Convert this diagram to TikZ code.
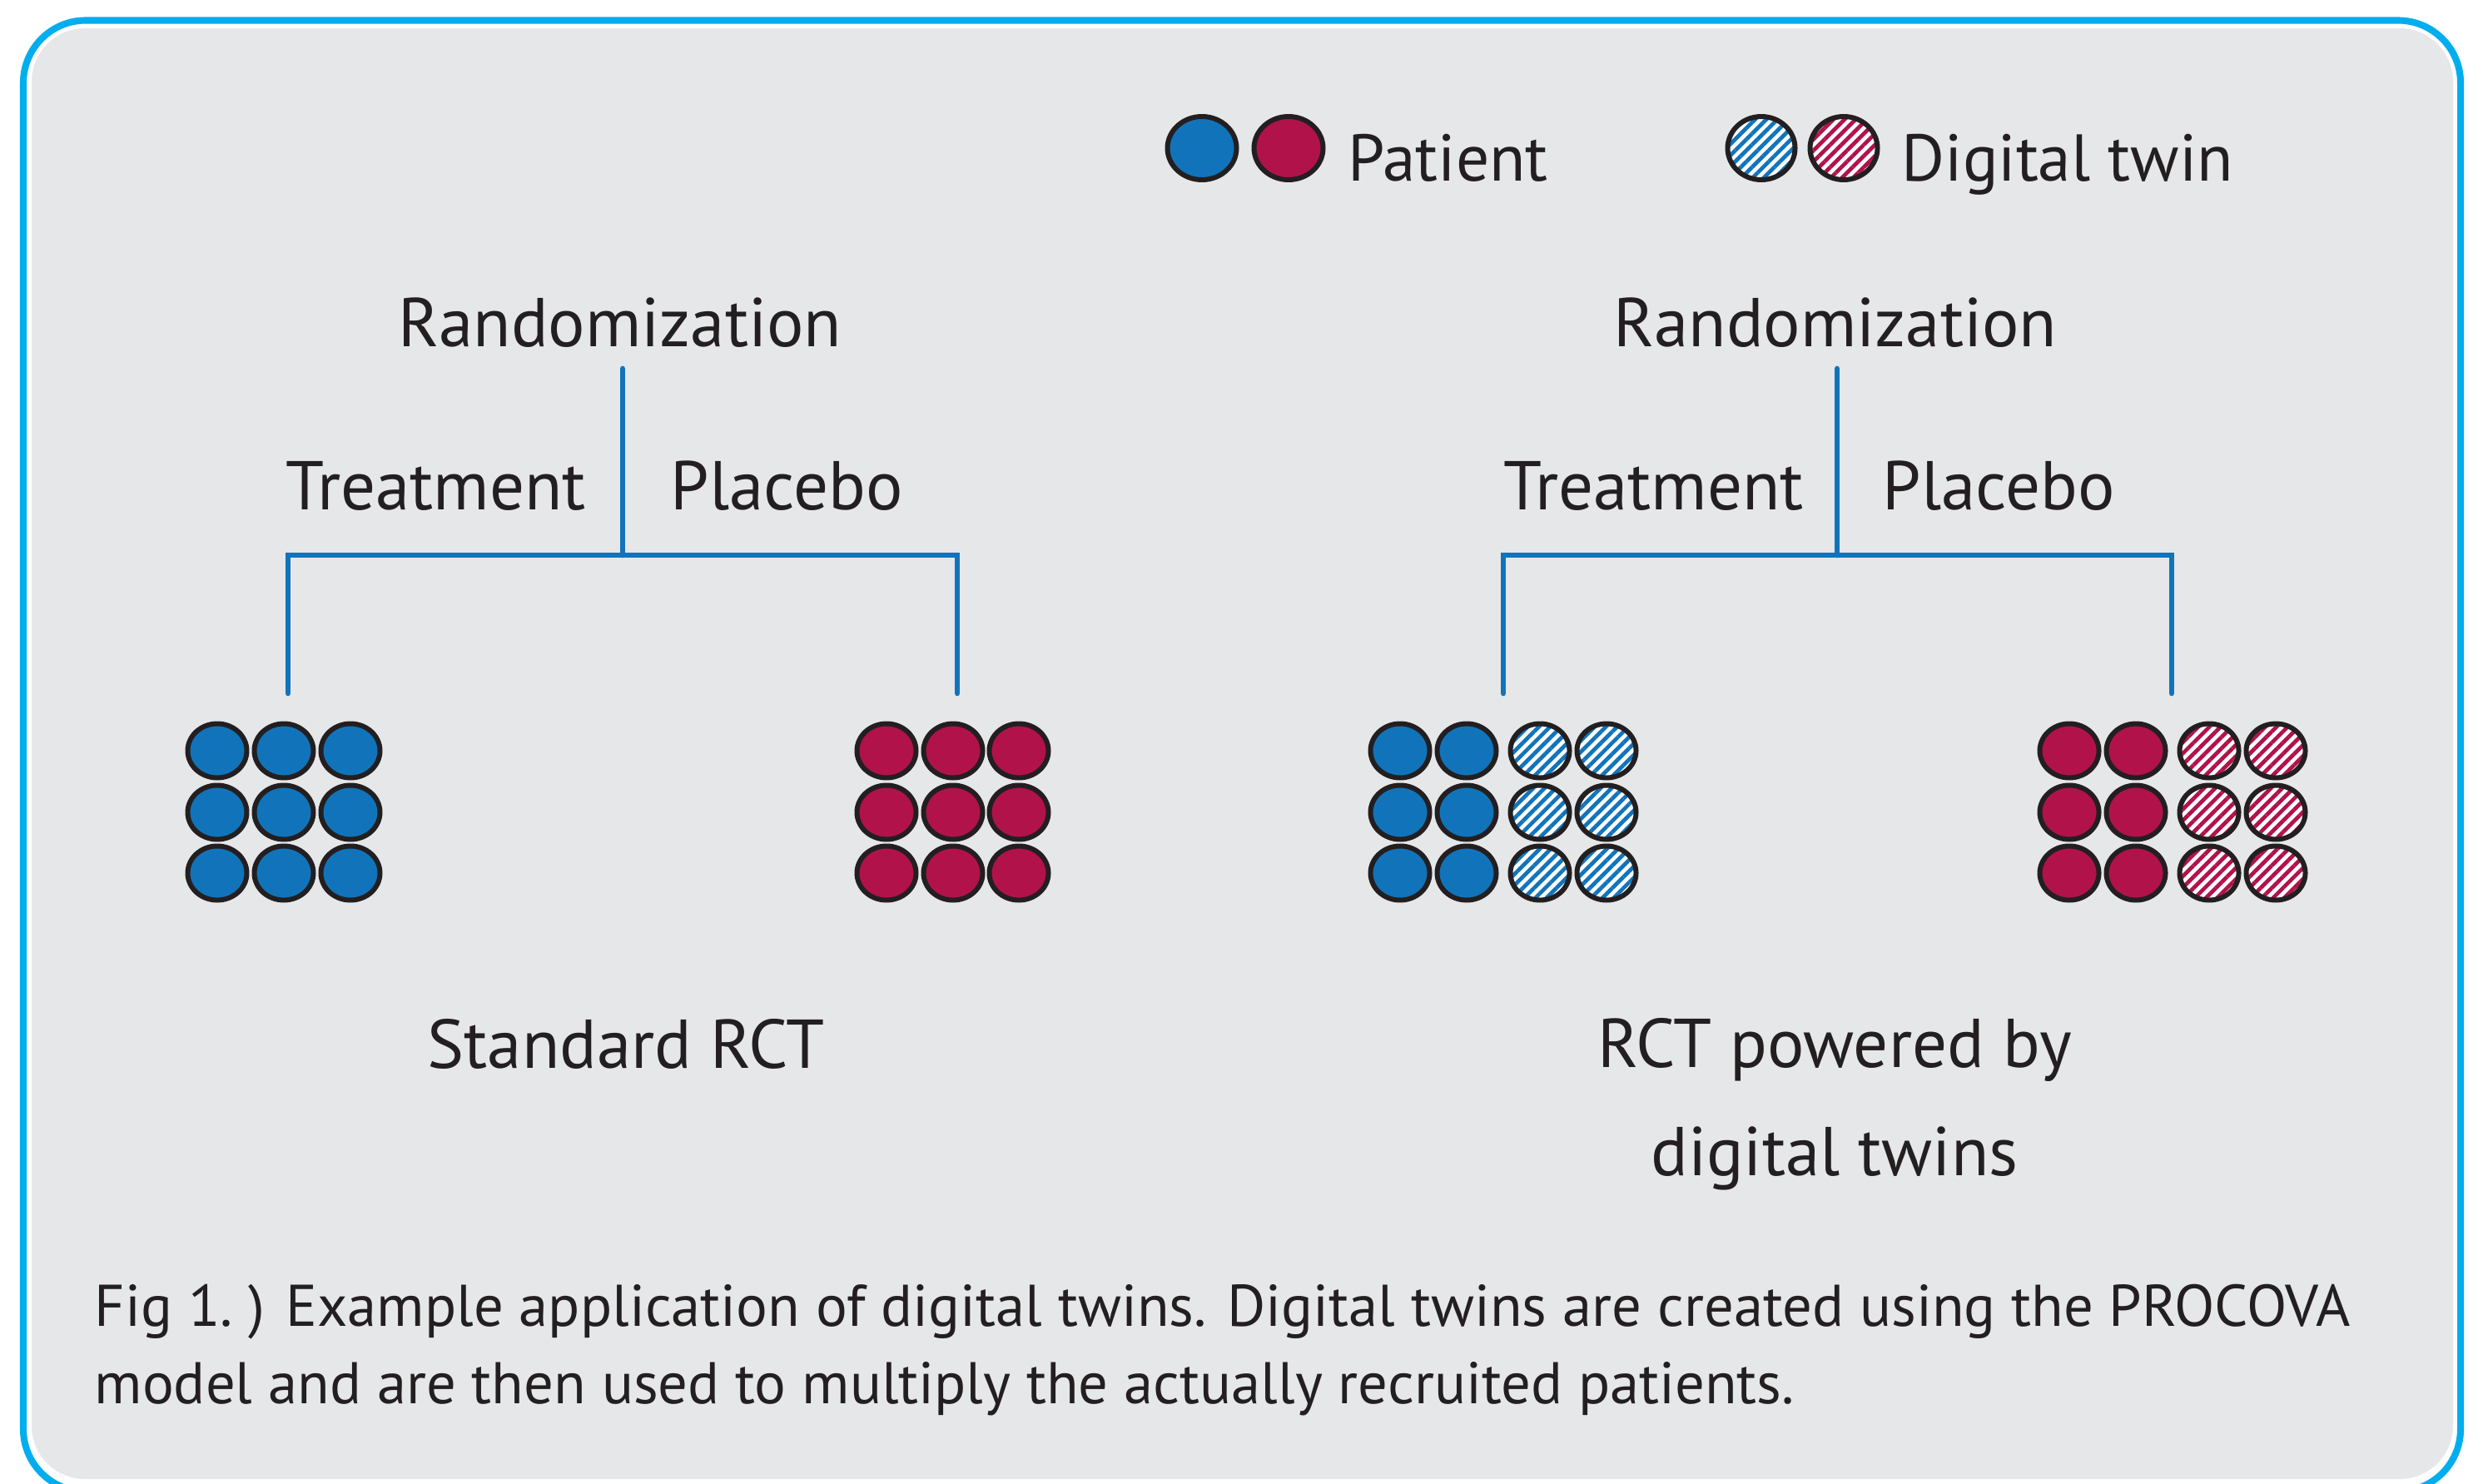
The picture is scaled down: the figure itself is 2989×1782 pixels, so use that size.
\documentclass[tikz,border=0pt]{standalone}
\usepackage{fontspec}
\setmainfont{PT Sans}
\usepackage{xcolor}
\usepackage{tikz}
\usetikzlibrary{positioning, patterns.meta}

\definecolor{frameblue}{HTML}{00AEEF}
\definecolor{panel}{HTML}{E6E7E8}
\definecolor{pblue}{HTML}{1174BB}
\definecolor{pred}{HTML}{B1124A}
\definecolor{ink}{HTML}{231F20}

\begin{document}
\begin{tikzpicture}[x=0.01cm, y=-0.01cm,
    lbl/.style={inner sep=0pt, text=ink, font=\fontsize{23.6}{36.7}\selectfont},
    legend/.style={inner sep=0pt, text=ink, font=\fontsize{22.6}{28}\selectfont},
    caption/.style={inner sep=0pt, text=ink, align=left, font=\fontsize{20.1}{26.2}\selectfont},
    tree/.style={draw=pblue, line width=1.9pt, line cap=round, line join=miter},
    patient/.style={fill=#1, draw=ink, line width=1.7pt},
    twin/.style={preaction={fill=white}, pattern={Lines[angle=45, distance=2.7pt, line width=1.35pt]}, pattern color=#1, draw=ink, line width=1.7pt}
]
    \useasboundingbox (0,0) rectangle (2989,1782);
    \clip (0,0) rectangle (2989,1782);

    % Khung nền
    \fill[white] (0,0) rectangle (2989,1782);
    \draw[frameblue, line width=2.3pt, rounded corners=0.75cm] (28,24.5) rectangle (2956,1792);
    \fill[panel, rounded corners=0.64cm] (38,34) rectangle (2947,1777);

    % Chú thích: bệnh nhân và bản sao số
    \draw[patient=pblue] (1444,178) ellipse [x radius=41.5, y radius=38];
    \draw[patient=pred] (1548,178) ellipse [x radius=41.5, y radius=38];
    \node[legend, anchor=base west] (patient) at (1619,218) {Patient};
    \draw[twin=pblue] (2116,178) ellipse [x radius=40.5, y radius=38];
    \draw[twin=pred] (2215,178) ellipse [x radius=40.5, y radius=38];
    \node[legend, anchor=base west] (twinlbl) at (2284,218) {Digital twin};

    % Nhánh trái: RCT tiêu chuẩn
    \node[lbl, anchor=base] (rand1) at (745,416) {Randomization};
    \node[lbl, anchor=base west] (treat1) at (343,612) {Treatment};
    \node[lbl, anchor=base west] (plac1) at (805,612) {Placebo};
    \coordinate (top1) at (748,443);
    \coordinate (fork1) at (748,667);
    \coordinate (tl1) at (346,833);
    \coordinate (pl1) at (1150,833);
    \draw[tree] (top1) -- (fork1);
    \draw[tree] (tl1) -- (tl1 |- fork1) -- (fork1 -| pl1) -- (pl1);

    \foreach \cx in {261,341,421}
        \foreach \cy in {902,976,1049}
            \draw[patient=pblue] (\cx,\cy) ellipse [x radius=35.5, y radius=32.5];
    \foreach \cx in {1065,1145,1224}
        \foreach \cy in {902,976,1049}
            \draw[patient=pred] (\cx,\cy) ellipse [x radius=35.5, y radius=32.5];

    \node[lbl, anchor=base] (std) at (752,1283) {Standard RCT};

    % Nhánh phải: RCT với bản sao số
    \node[lbl, anchor=base] (rand2) at (2205,416) {Randomization};
    \node[lbl, anchor=base west] (treat2) at (1806,612) {Treatment};
    \node[lbl, anchor=base west] (plac2) at (2261,612) {Placebo};
    \coordinate (top2) at (2207,443);
    \coordinate (fork2) at (2207,667);
    \coordinate (tl2) at (1806,833);
    \coordinate (pl2) at (2609,833);
    \draw[tree] (top2) -- (fork2);
    \draw[tree] (tl2) -- (tl2 |- fork2) -- (fork2 -| pl2) -- (pl2);

    \foreach \cy in {902,976,1049} {
        \draw[patient=pblue] (1682,\cy) ellipse [x radius=35.5, y radius=32.5];
        \draw[patient=pblue] (1762,\cy) ellipse [x radius=35.5, y radius=32.5];
        \draw[twin=pblue] (1850,\cy) ellipse [x radius=35.5, y radius=32.5];
        \draw[twin=pblue] (1930,\cy) ellipse [x radius=35.5, y radius=32.5];
        \draw[patient=pred] (2486,\cy) ellipse [x radius=35.5, y radius=32.5];
        \draw[patient=pred] (2566,\cy) ellipse [x radius=35.5, y radius=32.5];
        \draw[twin=pred] (2654,\cy) ellipse [x radius=35.5, y radius=32.5];
        \draw[twin=pred] (2734,\cy) ellipse [x radius=35.5, y radius=32.5];
    }

    % nút nhiều dòng: base là đường chân của dòng cuối
    \node[lbl, anchor=base, align=center] (powered) at (2204,1412) {RCT powered by\\digital twins};

    % Chú thích hình
    \node[caption, anchor=base west] (figcap) at (113,1686) {Fig 1.\ ) Example application of digital twins. Digital twins are created using the PROCOVA\\model and are then used to multiply the actually recruited patients.};
\end{tikzpicture}
\end{document}
